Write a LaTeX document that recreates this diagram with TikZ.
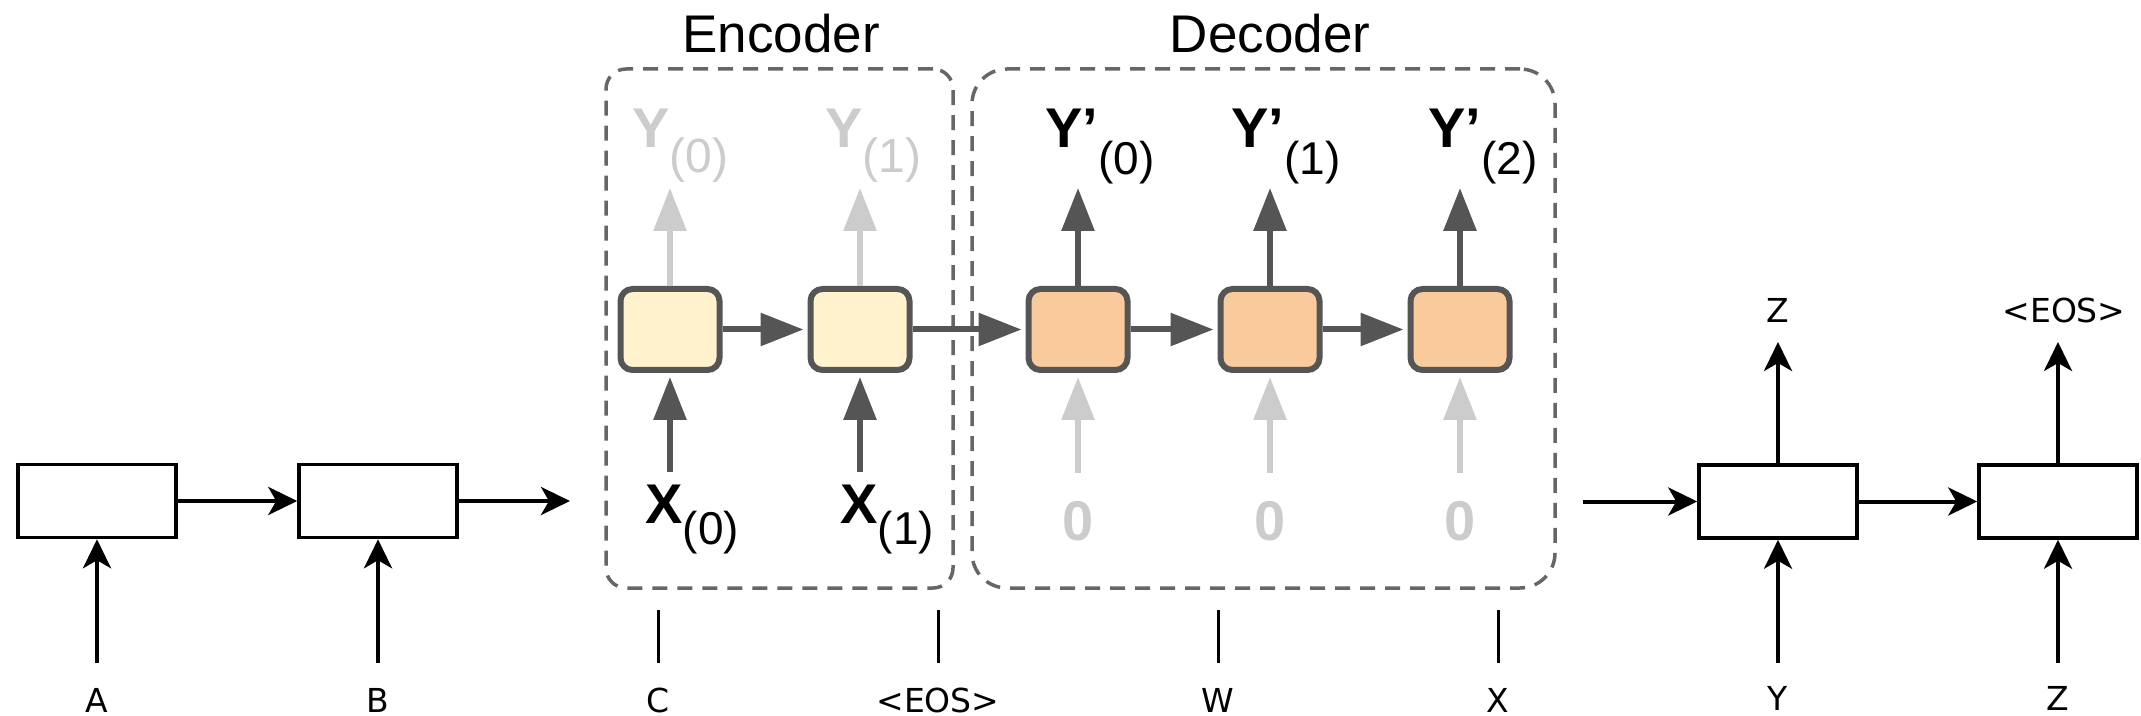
\documentclass[tikz,border=0pt]{standalone}
\usepackage{fontspec}
\setmainfont{Liberation Sans}
\newfontfamily\dejavu{DejaVu Sans}
\usetikzlibrary{arrows.meta}
\definecolor{encfill}{HTML}{FFF2CC}
\definecolor{decfill}{HTML}{F9CB9C}
\definecolor{cellline}{HTML}{555555}
\definecolor{dashc}{HTML}{666666}
\definecolor{ghost}{HTML}{CCCCCC}
\newcommand\lblbig{\bfseries\fontsize{28}{30}\selectfont}
\newcommand\lblsub{\mdseries\fontsize{23}{25}\selectfont}
\newcommand\lblsubg{\mdseries\fontsize{24}{26}\selectfont}
\newcommand\lblsmall{\dejavu\fontsize{16.5}{18}\selectfont}
\newcommand\lbltitle{\fontsize{26.5}{30}\selectfont}
\begin{document}
\begin{tikzpicture}[x=0.5pt,y=-0.5pt,
  cellbox/.style={draw=cellline, line width=3pt, rounded corners=6pt, minimum width=49.5pt, minimum height=40.5pt, inner sep=0pt},
  enc/.style={cellbox, fill=encfill},
  dec/.style={cellbox, fill=decfill},
  rnnbox/.style={draw=black, line width=1.75pt, minimum width=79pt, minimum height=36.5pt, inner sep=0pt, fill=white},
  darr/.style={draw=cellline, line width=3pt, -{Triangle[length=21.5pt, width=16pt]}},
  darrc/.style={darr, shorten >=2pt},
  garr/.style={darr, draw=ghost},
  garrc/.style={darrc, draw=ghost},
  barr/.style={draw=black, line width=2pt, -{Stealth[length=14.5pt, width=14pt, inset=4pt]}},
  tickline/.style={draw=black, line width=1.5pt},
  group/.style={draw=dashc, line width=1.75pt, dash pattern=on 7.5pt off 5pt, inner sep=0pt},
  small/.style={font=\lblsmall, inner sep=0pt},
  lab/.style={anchor=base west, inner sep=0pt}
]
\useasboundingbox (0,0) rectangle (2141,716);

% group frames
\node[group, rounded corners=10pt, minimum width=173.5pt, minimum height=259.5pt] (encgrp) at (779.5,328.5) {};
\node[group, rounded corners=17.5pt, minimum width=291.5pt, minimum height=259.5pt] (decgrp) at (1263.5,328.5) {};
\node[anchor=base, inner sep=0pt, font=\lbltitle] (enctitle) at (781,53) {Encoder};
\node[anchor=base, inner sep=0pt, font=\lbltitle] (dectitle) at (1270,53) {Decoder};

% cells
\node[enc] (e0) at (670,329.5) {};
\node[enc] (e1) at (860,329.5) {};
\node[dec] (d0) at (1078,329.5) {};
\node[dec] (d1) at (1270,329.5) {};
\node[dec] (d2) at (1460,329.5) {};

% output labels
\node[lab, text=ghost] (ye0) at (632,148) {\lblbig Y\raisebox{-12.5pt}{\lblsubg(0)}};
\node[lab, text=ghost] (ye1) at (825,148) {\lblbig Y\raisebox{-12.5pt}{\lblsubg(1)}};
\node[lab] (yd0) at (1045,148) {\lblbig Y’\raisebox{-13.5pt}{\lblsub(0)}};
\node[lab] (yd1) at (1231,148) {\lblbig Y’\raisebox{-13.5pt}{\lblsub(1)}};
\node[lab] (yd2) at (1428,148) {\lblbig Y’\raisebox{-13.5pt}{\lblsub(2)}};

% input labels
\node[lab] (x0) at (645,523) {\lblbig X\raisebox{-10.5pt}{\lblsub(0)}};
\node[lab] (x1) at (840,523) {\lblbig X\raisebox{-10.5pt}{\lblsub(1)}};
\node[anchor=base, inner sep=0pt, text=ghost, font=\lblbig] (z0) at (1078,540) {0};
\node[anchor=base, inner sep=0pt, text=ghost, font=\lblbig] (z1) at (1270,540) {0};
\node[anchor=base, inner sep=0pt, text=ghost, font=\lblbig] (z2) at (1460,540) {0};

% arrow end coordinates
\coordinate (te0) at (670,188);
\coordinate (te1) at (860,188);
\coordinate (td0) at (1078,188);
\coordinate (td1) at (1270,188);
\coordinate (td2) at (1460,188);
\coordinate (se0) at (670,472);
\coordinate (se1) at (860,472);
\coordinate (sd0) at (1078,473);
\coordinate (sd1) at (1270,473);
\coordinate (sd2) at (1460,473);

% vertical arrows
\draw[garr] (e0.north) -- (te0);
\draw[garr] (e1.north) -- (te1);
\draw[darr] (d0.north) -- (td0);
\draw[darr] (d1.north) -- (td1);
\draw[darr] (d2.north) -- (td2);
\draw[darrc] (se0) -- (e0.south);
\draw[darrc] (se1) -- (e1.south);
\draw[garrc] (sd0) -- (d0.south);
\draw[garrc] (sd1) -- (d1.south);
\draw[garrc] (sd2) -- (d2.south);

% horizontal arrows
\draw[darrc] (e0.east) -- (e1.west);
\draw[darrc] (e1.east) -- (d0.west);
\draw[darrc] (d0.east) -- (d1.west);
\draw[darrc] (d1.east) -- (d2.west);

% plain rnn boxes
\node[rnnbox] (b1) at (97,501) {};
\node[rnnbox] (b2) at (378,501) {};
\node[rnnbox] (b3) at (1778,501.5) {};
\node[rnnbox] (b4) at (2058,501.5) {};
\coordinate (encin) at (570,501);
\coordinate (decout) at (1583,501.5);
\draw[barr] (b1.east) -- (b2.west);
\draw[barr] (b2.east) -- (encin);
\draw[barr] (decout) -- (b3.west);
\draw[barr] (b3.east) -- (b4.west);

% small labels and their arrows
\node[small] (la) at (97,700) {A};
\node[small] (lb) at (378,700) {B};
\node[small] (lc) at (658,700) {C};
\node[small] (leos) at (938,700) {<EOS>};
\node[small] (lw) at (1218,700) {W};
\node[small] (lx) at (1498,700) {X};
\node[small] (ly) at (1778,698) {Y};
\node[small] (lz) at (2058,698) {Z};
\node[small] (oz) at (1778,310) {Z};
\node[small] (oeos) at (2064,310) {<EOS>};

\coordinate (ia) at (97,663);
\coordinate (ib) at (378,663);
\coordinate (iy) at (1778,663);
\coordinate (iz) at (2058,663);
\coordinate (oy) at (1778,342);
\coordinate (oz2) at (2058,342);
\draw[barr] (ia) -- (b1.south);
\draw[barr] (ib) -- (b2.south);
\draw[barr] (iy) -- (b3.south);
\draw[barr] (iz) -- (b4.south);
\draw[barr] (b3.north) -- (oy);
\draw[barr] (b4.north) -- (oz2);

% ticks
\coordinate (tc1) at (658,610); \coordinate (tc2) at (658,663);
\coordinate (tq1) at (938,610); \coordinate (tq2) at (938,663);
\coordinate (tw1) at (1218,610); \coordinate (tw2) at (1218,663);
\coordinate (tx1) at (1498,610); \coordinate (tx2) at (1498,663);
\draw[tickline] (tc1) -- (tc2);
\draw[tickline] (tq1) -- (tq2);
\draw[tickline] (tw1) -- (tw2);
\draw[tickline] (tx1) -- (tx2);
\end{tikzpicture}
\end{document}
